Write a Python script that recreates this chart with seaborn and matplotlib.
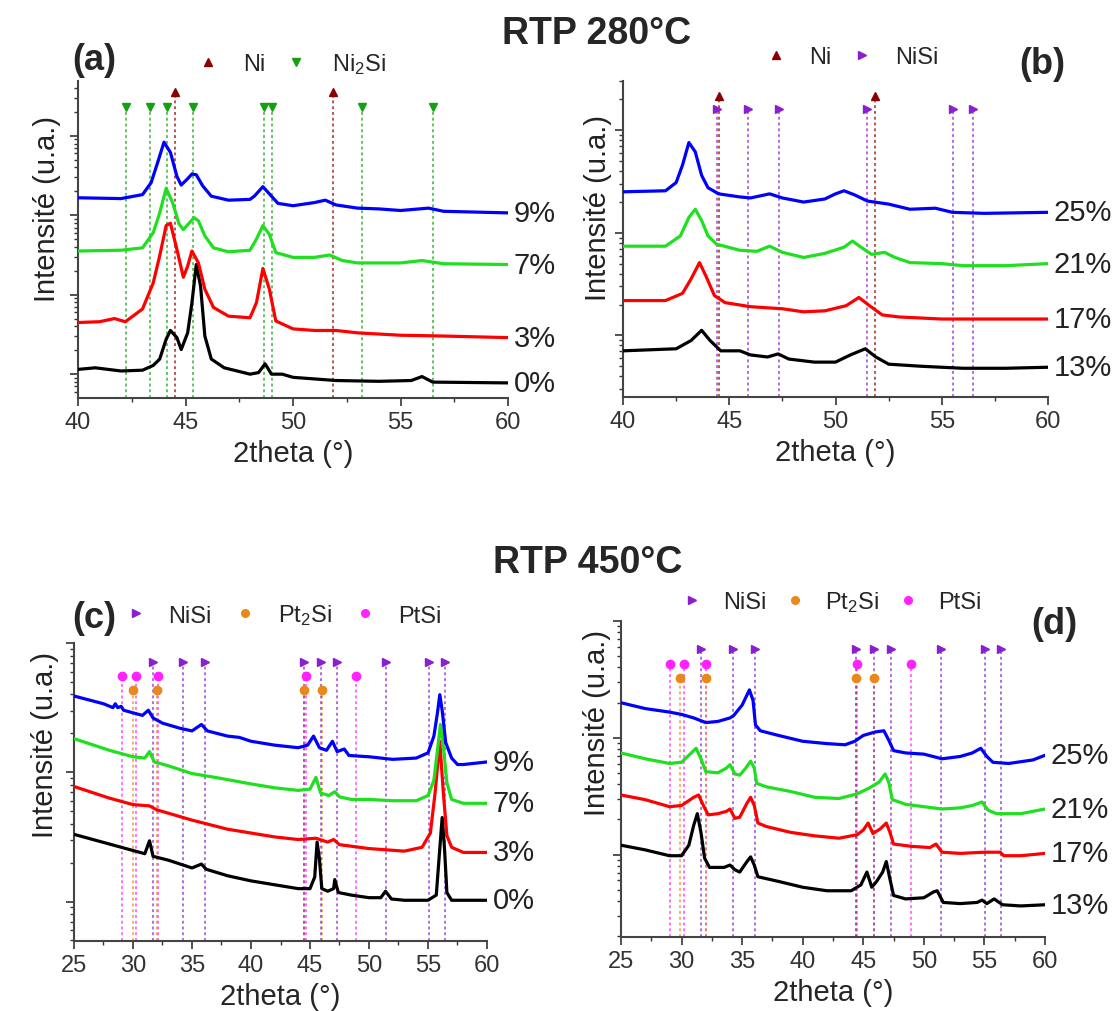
import matplotlib
matplotlib.use('Agg')
import matplotlib.pyplot as plt
import seaborn as sns
import numpy as np
from matplotlib.lines import Line2D
from matplotlib.ticker import NullFormatter, MultipleLocator, LogLocator

sns.set_theme(style='ticks')
plt.rcParams['font.family'] = ['Liberation Sans', 'DejaVu Sans']
plt.rcParams['mathtext.default'] = 'regular'

# ---- data: 2theta (deg) and log10(intensity) ----
# (a) RTP 280C, 0-9 %
a9_x = [40, 42, 43, 43.4, 43.7, 44, 44.3, 44.6, 44.8, 45.1, 45.3, 45.5, 45.8, 46.2, 47, 48, 48.2, 48.6, 49, 49.3,
        50, 51, 51.5, 52, 53, 54, 55, 56.3, 57, 60]
a9_y = [4.22, 4.21, 4.26, 4.41, 4.66, 4.92, 4.79, 4.49, 4.38, 4.46, 4.52, 4.51, 4.37, 4.24, 4.19, 4.20, 4.24, 4.36,
        4.24, 4.15, 4.12, 4.16, 4.19, 4.13, 4.09, 4.08, 4.06, 4.09, 4.05, 4.03]
a7_x = [40, 42, 43, 43.5, 43.8, 44.1, 44.4, 44.7, 44.9, 45.2, 45.4, 45.6, 45.9, 46.3, 47, 48, 48.3, 48.6, 48.9, 49.2,
        50, 51, 51.7, 52.3, 53, 55, 56, 57, 60]
a7_y = [3.55, 3.56, 3.59, 3.78, 4.03, 4.34, 4.16, 3.89, 3.82, 3.91, 3.97, 3.93, 3.74, 3.59, 3.54, 3.56, 3.70, 3.87,
        3.76, 3.53, 3.47, 3.47, 3.50, 3.43, 3.40, 3.40, 3.43, 3.39, 3.38]
a3_x = [40, 41, 41.7, 42.2, 43, 43.5, 43.8, 44.1, 44.3, 44.6, 44.9, 45.1, 45.3, 45.6, 45.9, 46.3, 47, 48, 48.3, 48.6,
        48.9, 49.2, 50, 51, 52, 53, 55, 57, 60]
a3_y = [2.65, 2.66, 2.70, 2.66, 2.82, 3.15, 3.49, 3.87, 3.90, 3.57, 3.22, 3.36, 3.55, 3.40, 3.07, 2.84, 2.73, 2.71,
        2.90, 3.33, 3.07, 2.67, 2.57, 2.55, 2.55, 2.52, 2.49, 2.48, 2.46]
a0_x = [40, 40.8, 42, 43, 43.5, 43.8, 44.1, 44.3, 44.6, 44.8, 45.1, 45.3, 45.5, 45.7, 45.9, 46.2, 46.8, 48, 48.4,
        48.7, 49, 49.5, 50, 52, 54, 55.5, 56, 56.5, 60]
a0_y = [2.06, 2.08, 2.04, 2.05, 2.11, 2.19, 2.44, 2.55, 2.46, 2.31, 2.52, 2.90, 3.38, 3.11, 2.48, 2.19, 2.08, 2.00,
        2.02, 2.13, 2.00, 2.00, 1.96, 1.92, 1.91, 1.92, 1.97, 1.90, 1.89]

# (b) RTP 280C, 13-25 %
b25_x = [40, 42, 42.5, 42.8, 43.1, 43.4, 43.7, 44, 44.5, 45.5, 46, 46.9, 47.5, 48.5, 49.5, 50, 50.4, 50.9, 51.5,
         52.5, 53.5, 54.7, 55.5, 57, 60]
b25_y = [3.40, 3.41, 3.49, 3.66, 3.88, 3.79, 3.56, 3.44, 3.38, 3.35, 3.34, 3.38, 3.34, 3.30, 3.33, 3.38, 3.41, 3.37,
         3.31, 3.28, 3.23, 3.24, 3.20, 3.19, 3.20]
b21_x = [40, 42, 42.7, 43.1, 43.4, 43.7, 44, 44.4, 45.5, 46.3, 46.9, 47.5, 48.5, 49.5, 50.4, 50.8, 51.2, 51.7, 52.3,
         52.8, 53.5, 55, 56, 58, 60]
b21_y = [2.87, 2.87, 2.97, 3.15, 3.23, 3.12, 2.97, 2.89, 2.83, 2.82, 2.87, 2.81, 2.76, 2.80, 2.86, 2.92, 2.86, 2.79,
         2.81, 2.76, 2.71, 2.70, 2.68, 2.68, 2.70]
b17_x = [40, 42, 42.8, 43.2, 43.6, 43.9, 44.3, 44.8, 46, 47.5, 48.5, 49.5, 50.5, 51.1, 51.6, 52.2, 53, 55, 57, 60]
b17_y = [2.34, 2.34, 2.41, 2.55, 2.71, 2.58, 2.39, 2.32, 2.28, 2.26, 2.23, 2.24, 2.29, 2.37, 2.29, 2.20, 2.18, 2.16,
         2.16, 2.16]
b13_x = [40, 42.5, 43.2, 43.7, 44.1, 44.6, 45.5, 46, 46.8, 47.3, 47.8, 49, 50, 50.7, 51.4, 51.9, 52.5, 54, 56, 58, 60]
b13_y = [1.85, 1.87, 1.95, 2.05, 1.95, 1.85, 1.85, 1.81, 1.79, 1.82, 1.77, 1.74, 1.74, 1.81, 1.87, 1.79, 1.72, 1.70,
         1.68, 1.68, 1.69]

# (c) RTP 450C, 0-9 %
c9_x = [25, 27.5, 28.3, 28.5, 28.7, 29, 29.2, 30, 30.8, 31.3, 31.7, 32.5, 34, 35, 35.8, 36.3, 38, 39, 40, 42, 44,
        44.8, 45.3, 45.8, 46.4, 46.9, 47.3, 47.9, 48.3, 50, 52, 54, 55, 55.5, 55.8, 56, 56.2, 56.5, 57, 57.5, 58, 60]
c9_y = [3.59, 3.53, 3.50, 3.53, 3.50, 3.51, 3.48, 3.46, 3.44, 3.48, 3.42, 3.38, 3.34, 3.32, 3.37, 3.32, 3.28, 3.27,
        3.24, 3.21, 3.19, 3.21, 3.28, 3.19, 3.17, 3.24, 3.16, 3.18, 3.13, 3.12, 3.10, 3.11, 3.15, 3.28, 3.46, 3.60,
        3.48, 3.23, 3.11, 3.06, 3.06, 3.08]
c7_x = [25, 28, 30, 31, 31.4, 31.8, 33, 35, 37, 40, 42, 44, 45, 45.5, 45.9, 46.6, 47.1, 47.5, 48.5, 50, 52, 54, 55,
        55.5, 55.8, 56.05, 56.3, 56.6, 57, 58, 59, 60]
c7_y = [3.26, 3.17, 3.12, 3.11, 3.16, 3.08, 3.05, 2.99, 2.96, 2.91, 2.88, 2.86, 2.87, 2.96, 2.84, 2.82, 2.85, 2.81,
        2.79, 2.79, 2.78, 2.78, 2.82, 2.94, 3.17, 3.37, 3.20, 2.92, 2.79, 2.76, 2.76, 2.76]
c3_x = [25, 28, 30, 31.4, 32, 35, 38, 40, 42, 44, 45.5, 46.5, 47, 47.5, 50, 53, 54.5, 55.2, 55.6, 56, 56.3, 56.6,
        57, 58, 60]
c3_y = [2.89, 2.80, 2.75, 2.74, 2.71, 2.63, 2.56, 2.53, 2.50, 2.48, 2.49, 2.46, 2.48, 2.44, 2.41, 2.39, 2.42, 2.53,
        2.84, 3.24, 2.84, 2.51, 2.42, 2.38, 2.38]
c0_x = [25, 27, 29, 31, 31.4, 31.7, 33, 35, 35.8, 36.2, 38, 40, 42, 44, 45, 45.4, 45.6, 45.8, 46, 46.5, 47, 47.1,
        47.4, 48.5, 50, 51, 51.4, 51.9, 53, 55, 55.7, 56.0, 56.2, 56.4, 56.6, 57, 58, 60]
c0_y = [2.52, 2.47, 2.42, 2.37, 2.47, 2.35, 2.32, 2.26, 2.29, 2.25, 2.20, 2.16, 2.13, 2.10, 2.10, 2.19, 2.46, 2.33,
        2.10, 2.08, 2.10, 2.17, 2.07, 2.05, 2.03, 2.03, 2.08, 2.02, 2.01, 2.01, 2.05, 2.41, 2.65, 2.41, 2.07, 2.01,
        2.01, 2.01]

# (d) RTP 450C, 13-25 %
d25_x = [25, 27, 29, 30, 31, 32, 33, 34, 34.3, 35, 35.6, 35.9, 36.1, 36.5, 38, 40, 42, 43.5, 44.3, 45, 46, 46.7,
         47.1, 47.5, 48.5, 50, 51.5, 53, 54, 54.7, 55.2, 55.7, 57, 59, 60]
d25_y = [3.30, 3.25, 3.22, 3.20, 3.17, 3.13, 3.14, 3.17, 3.19, 3.28, 3.41, 3.32, 3.11, 3.06, 3.02, 2.97, 2.95, 2.94,
         2.97, 3.02, 3.05, 3.06, 2.98, 2.89, 2.87, 2.86, 2.82, 2.84, 2.87, 2.91, 2.84, 2.79, 2.78, 2.81, 2.85]
d21_x = [25, 27, 29, 30, 30.8, 31.2, 31.6, 32, 33, 33.7, 34, 34.4, 34.8, 35.3, 35.7, 36, 36.2, 37, 39, 41, 43, 44.5,
         45.5, 46.3, 46.8, 47.1, 47.4, 48.5, 50, 51.5, 53, 54, 54.8, 55.3, 56, 58, 60]
d21_y = [2.87, 2.82, 2.78, 2.79, 2.87, 2.91, 2.82, 2.71, 2.70, 2.74, 2.77, 2.69, 2.68, 2.74, 2.80, 2.74, 2.61, 2.58,
         2.54, 2.49, 2.48, 2.52, 2.57, 2.62, 2.69, 2.62, 2.47, 2.43, 2.41, 2.39, 2.40, 2.42, 2.45, 2.38, 2.35, 2.35,
         2.39]
d17_x = [25, 27, 29, 30, 31, 31.4, 31.8, 32.2, 33, 33.7, 34, 34.4, 34.8, 35.4, 35.7, 36, 36.3, 37, 39, 41, 43, 44.5,
         45, 45.4, 45.8, 46.4, 46.9, 47.2, 47.5, 49, 50.5, 51, 51.5, 53, 55, 56.3, 56.6, 58, 60]
d17_y = [2.51, 2.47, 2.41, 2.42, 2.49, 2.51, 2.42, 2.34, 2.35, 2.37, 2.39, 2.31, 2.32, 2.44, 2.49, 2.42, 2.27, 2.24,
         2.19, 2.16, 2.14, 2.17, 2.21, 2.27, 2.18, 2.22, 2.27, 2.19, 2.09, 2.07, 2.06, 2.09, 2.02, 2.01, 2.02, 2.02,
         1.99, 1.99, 2.01]
d13_x = [25, 27, 29, 30, 30.6, 31, 31.3, 31.6, 31.9, 32.3, 33.5, 34, 34.4, 34.8, 35.4, 35.7, 36, 36.3, 38, 40, 42,
         44, 44.8, 45.3, 45.7, 46.1, 46.6, 46.9, 47.2, 47.5, 48.5, 50, 50.8, 51.1, 51.6, 53, 54.4, 54.8, 55.2, 55.8,
         56.5, 58, 60]
d13_y = [2.08, 2.04, 1.99, 1.99, 2.08, 2.25, 2.35, 2.19, 1.97, 1.89, 1.89, 1.91, 1.87, 1.85, 1.94, 1.98, 1.91, 1.81,
         1.77, 1.72, 1.69, 1.69, 1.74, 1.85, 1.72, 1.77, 1.85, 1.94, 1.79, 1.65, 1.62, 1.63, 1.68, 1.69, 1.59, 1.58,
         1.59, 1.61, 1.58, 1.62, 1.57, 1.56, 1.57]

# reference peak positions (2theta)
a_ni = [44.5, 51.85]
a_ni2si = [42.25, 43.35, 44.15, 45.35, 48.65, 49.03, 53.2, 56.5]
b_ni = [44.5, 51.88]
b_nisi = [44.43, 45.86, 47.34, 51.47, 55.51, 56.47]
c_nisi = [31.72, 34.26, 36.12, 44.45, 45.94, 47.3, 51.47, 55.06, 56.41]
c_pt2si = [29.97, 32.06, 44.45, 46.0]
c_ptsi = [29.09, 30.25, 32.08, 44.62, 48.93]
d_nisi = [31.6, 34.24, 36.08, 44.41, 45.9, 47.3, 51.42, 55.05, 56.34]
d_pt2si = [29.89, 32.01, 44.38, 45.9]
d_ptsi = [29.07, 30.17, 32.04, 44.47, 48.95]

labels_ab_left = ['0%', '3%', '7%', '9%']
labels_right = ['13%', '17%', '21%', '25%']

CURVE_COLORS = ['#000000', '#ff0000', '#1ee01e', '#0000ff']
NI, NI2SI, NISI, PT2SI, PTSI = '#8b0000', '#14a014', '#8a1fd0', '#e8891c', '#ff22ff'

fig = plt.figure(figsize=(11.16, 10.12), dpi=100)
W, H = 1116, 1012


def make_ax(l, t, r, b):
    return fig.add_axes([l / W, 1 - b / H, (r - l) / W, (b - t) / H])


def style_ax(ax, xlim, ylog):
    ax.set_yscale('log')
    ax.set_xlim(*xlim)
    ax.set_ylim(10 ** ylog[0], 10 ** ylog[1])
    ax.xaxis.set_major_locator(MultipleLocator(5))
    ax.xaxis.set_minor_locator(MultipleLocator(2.5))
    ax.yaxis.set_major_locator(LogLocator(base=10))
    ax.yaxis.set_minor_locator(LogLocator(base=10, subs=np.arange(2, 10)))
    ax.yaxis.set_major_formatter(NullFormatter())
    ax.yaxis.set_minor_formatter(NullFormatter())
    ax.tick_params(which='major', direction='out', length=6, width=1.2, labelsize=17, colors='#333333')
    ax.tick_params(which='minor', direction='out', length=3, width=1.0, colors='#333333')
    for s in ['left', 'bottom']:
        ax.spines[s].set_linewidth(1.5)
        ax.spines[s].set_color('#444444')
    sns.despine(ax=ax)
    ax.set_xlabel('2theta (°)', fontsize=21, labelpad=4)
    ax.set_ylabel('')


def curves(ax, series, labels):
    for (x, y), col, lab in zip(series, CURVE_COLORS, labels):
        yy = 10 ** np.asarray(y)
        sns.lineplot(x=x, y=yy, color=col, lw=2.3, ax=ax, estimator=None, sort=False, zorder=4)
        ax.annotate(lab, xy=(1, yy[-1]), xycoords=('axes fraction', 'data'), xytext=(4, 0),
                    textcoords='offset points', ha='left', va='center', fontsize=21, color='#222222')


def phase(ax, xs, top, color, marker, ms=6):
    tr = ax.get_xaxis_transform()
    ax.vlines(xs, 0, top, transform=tr, colors=color, linestyles=(0, (1.6, 1.6)), lw=1.3, alpha=0.7, zorder=1)
    ax.plot(xs, [top] * len(xs), ls='none', marker=marker, color=color, ms=ms, transform=tr,
            clip_on=False, zorder=5)


def legend(ax, items, pos, htp, cs):
    handles = [Line2D([], [], ls='none', marker=m, color=c, ms=ms, label=l) for m, c, ms, l in items]
    ax.legend(handles=handles, loc='center', bbox_to_anchor=pos, ncol=len(handles), frameon=False,
              fontsize=17, handlelength=0.8, handletextpad=htp, columnspacing=cs, borderaxespad=0)


def ylabel(ax, x, y):
    ax.text(x, y, 'Intensité (u.a.)', rotation=90, transform=ax.transAxes, ha='center', va='center',
            fontsize=21, color='#222222')


# (a)
axa = make_ax(78, 82, 508, 399)
style_ax(axa, (40, 60), (1.70, 5.69))
phase(axa, a_ni2si, 0.917, NI2SI, 'v')
phase(axa, a_ni, 0.966, NI, '^')
curves(axa, [(a0_x, a0_y), (a3_x, a3_y), (a7_x, a7_y), (a9_x, a9_y)], labels_ab_left)
legend(axa, [('^', NI, 5.5, 'Ni'), ('v', NI2SI, 5.5, 'Ni$_2$Si')], (0.498, 1.054), 1.1, 0.9)
ylabel(axa, -0.071, 0.60)

# (b)
axb = make_ax(623, 82, 1048, 398)
style_ax(axb, (40, 60), (1.40, 4.48))
phase(axb, b_nisi, 0.911, NISI, '>')
phase(axb, b_ni, 0.953, NI, '^')
curves(axb, [(b13_x, b13_y), (b17_x, b17_y), (b21_x, b21_y), (b25_x, b25_y)], labels_right)
legend(axb, [('^', NI, 5.5, 'Ni'), ('>', NISI, 5.5, 'NiSi')], (0.539, 1.076), 1.0, 0.9)
ylabel(axb, -0.059, 0.60)

# (c)
axc = make_ax(74, 644, 487, 942)
style_ax(axc, (25, 60), (1.695, 4.0))
phase(axc, c_ptsi, 0.890, PTSI, 'o', 6)
phase(axc, c_pt2si, 0.842, PT2SI, 'o', 6)
phase(axc, c_nisi, 0.937, NISI, '>')
curves(axc, [(c0_x, c0_y), (c3_x, c3_y), (c7_x, c7_y), (c9_x, c9_y)], labels_ab_left)
legend(axc, [('>', NISI, 5.5, 'NiSi'), ('o', PT2SI, 5.5, 'Pt$_2$Si'), ('o', PTSI, 5.5, 'PtSi')],
       (0.508, 1.094), 1.0, 1.0)
ylabel(axc, -0.070, 0.66)

# (d)
axd = make_ax(621, 622, 1045, 938)
style_ax(axd, (25, 60), (1.294, 4.0))
phase(axd, d_ptsi, 0.865, PTSI, 'o', 6)
phase(axd, d_pt2si, 0.819, PT2SI, 'o', 6)
phase(axd, d_nisi, 0.911, NISI, '>')
curves(axd, [(d13_x, d13_y), (d17_x, d17_y), (d21_x, d21_y), (d25_x, d25_y)], labels_right)
legend(axd, [('>', NISI, 5.5, 'NiSi'), ('o', PT2SI, 5.5, 'Pt$_2$Si'), ('o', PTSI, 5.5, 'PtSi')],
       (0.498, 1.062), 0.9, 0.8)
ylabel(axd, -0.057, 0.68)

# titles and panel letters
fig.text(597 / W, 1 - 33.5 / H, 'RTP 280°C', ha='center', va='center', fontsize=27, fontweight='bold')
fig.text(587.5 / W, 1 - 563 / H, 'RTP 450°C', ha='center', va='center', fontsize=27, fontweight='bold')
for lab, x, y in [('(a)', 94, 61), ('(b)', 1042, 64), ('(c)', 94, 618), ('(d)', 1054, 625)]:
    fig.text(x / W, 1 - y / H, lab, ha='center', va='center', fontsize=26, fontweight='bold')

fig.savefig('out.png', dpi=100)
